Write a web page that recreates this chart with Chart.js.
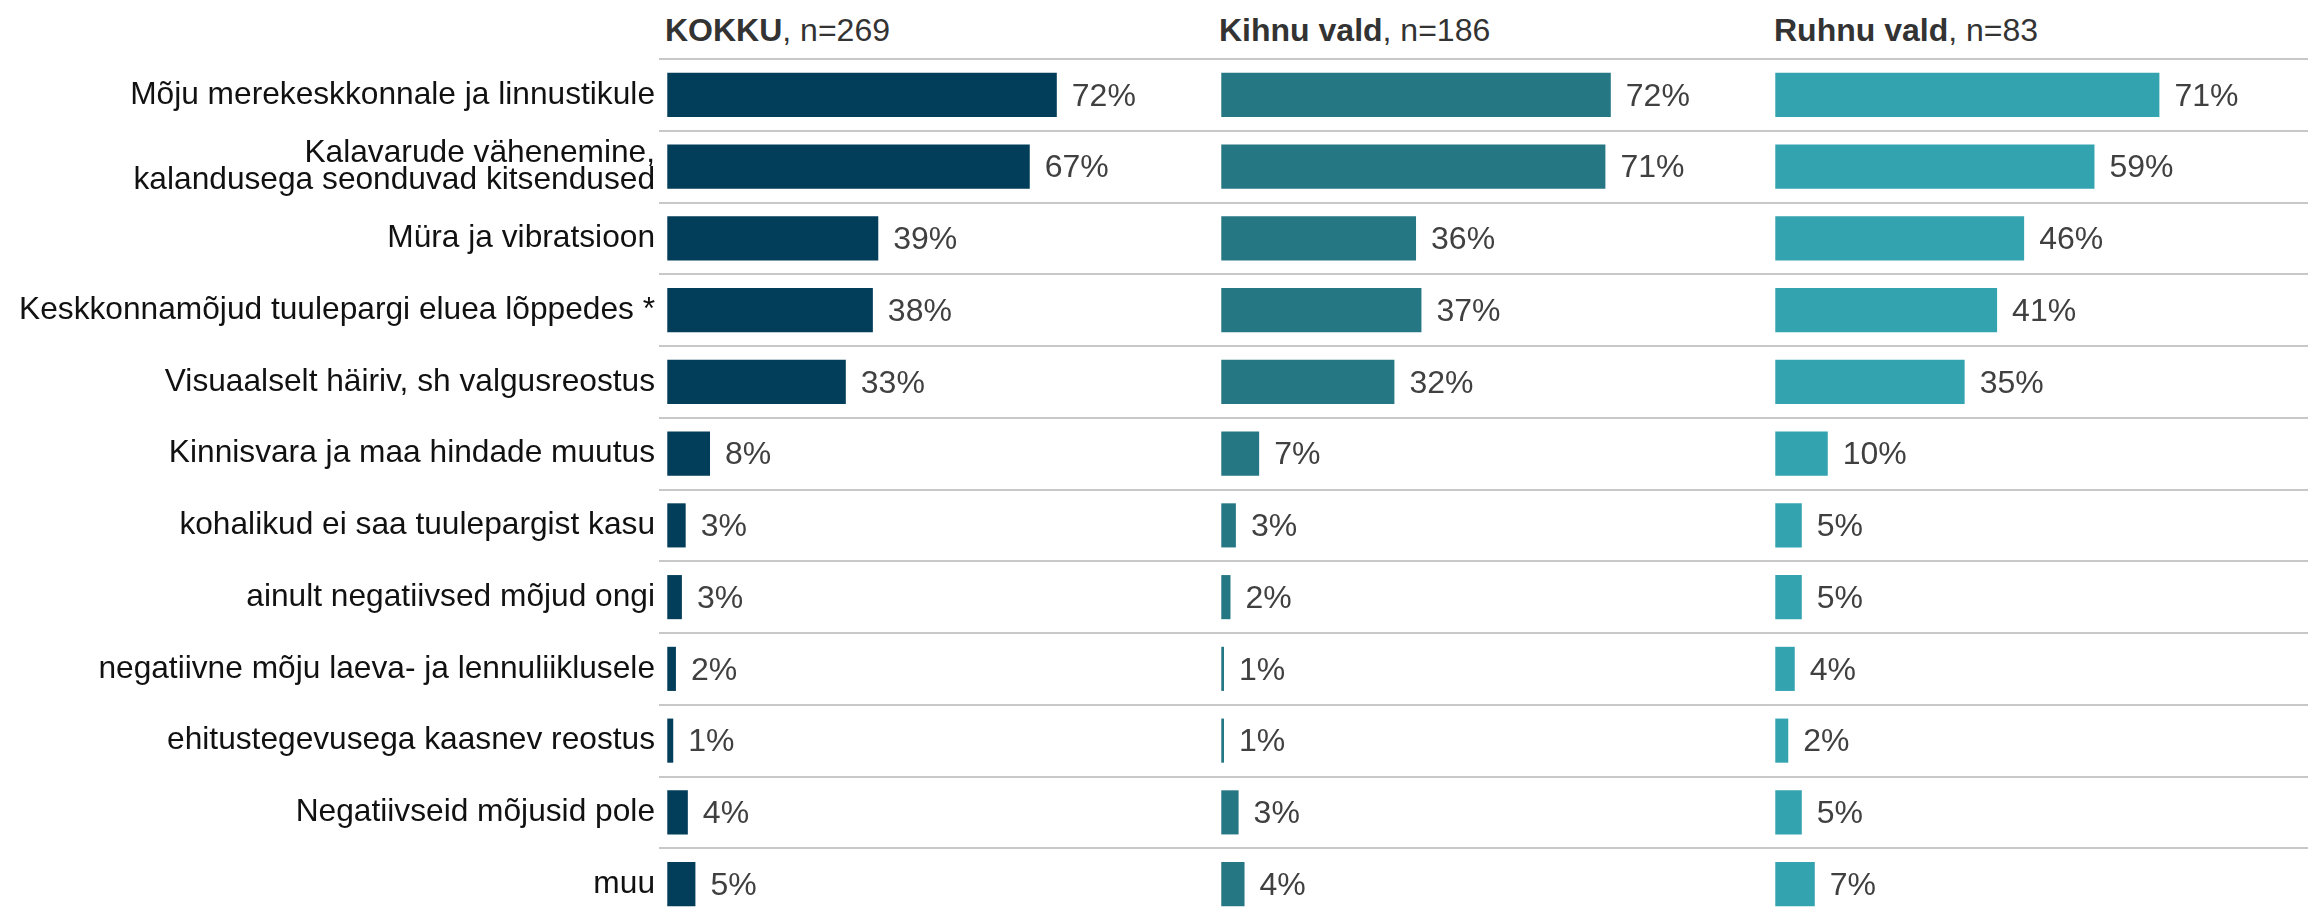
<!DOCTYPE html>
<html>
<head>
<meta charset="utf-8">
<script src="https://cdn.jsdelivr.net/npm/chart.js@4/dist/chart.umd.min.js"></script>
<style>
  body{margin:0;background:#fff;overflow:hidden}
  #wrap{position:relative;width:2308px;height:915px;overflow:hidden}
  canvas{position:absolute;top:0}
  .head{position:absolute;top:14px;font:32px/1 'Liberation Sans',Arial,sans-serif;color:#333;white-space:nowrap}
</style>
</head>
<body>
<div id="wrap">
  <div class="head" style="left:665px"><b>KOKKU</b>, n=269</div>
  <div class="head" style="left:1219px"><b>Kihnu vald</b>, n=186</div>
  <div class="head" style="left:1774px"><b>Ruhnu vald</b>, n=83</div>
  <canvas id="c1" width="1213" height="950" style="left:0"></canvas>
  <canvas id="c2" width="554" height="950" style="left:1213px"></canvas>
  <canvas id="c3" width="541" height="950" style="left:1767px"></canvas>
</div>
<script>
const categories=[
  'Mõju merekeskkonnale ja linnustikule',
  ['Kalavarude vähenemine,','kalandusega seonduvad kitsendused'],
  'Müra ja vibratsioon',
  'Keskkonnamõjud tuulepargi eluea lõppedes *',
  'Visuaalselt häiriv, sh valgusreostus',
  'Kinnisvara ja maa hindade muutus',
  'kohalikud ei saa tuulepargist kasu',
  'ainult negatiivsed mõjud ongi',
  'negatiivne mõju laeva- ja lennuliiklusele',
  'ehitustegevusega kaasnev reostus',
  'Negatiivseid mõjusid pole',
  'muu'
]
// shares in % (labels show them rounded)
const kokku=[72,67,39,38,33,7.9,3.4,2.7,1.6,1.1,3.8,5.2]
const kihnu=[72,71,36,37,32,7,2.7,1.7,0.5,0.5,3.2,4.3]
const ruhnu=[71,59,46,41,35,9.7,4.9,4.9,3.6,2.4,4.9,7.3]

const font="'Liberation Sans', Arial, sans-serif"
const pxPerPct=5.41
const lead=1.53

const valueLabels={
  id:'valueLabels',
  afterDatasetsDraw(chart){
    const ctx=chart.ctx
    const ds=chart.data.datasets[0]
    ctx.save()
    ctx.font='32px '+font
    ctx.fillStyle='#404040'
    ctx.textBaseline='middle'
    ctx.textAlign='left'
    chart.getDatasetMeta(0).data.forEach((bar,i)=>{
      ctx.fillText(Math.round(ds.data[i])+'%',bar.x+15,bar.y+2)
    })
    ctx.restore()
  }
}

function panel(id,values,color,withLabels){
  const el=document.getElementById(id)
  const areaWidth=withLabels ? el.width-659 : el.width
  return new Chart(el,{
    type:'bar',
    data:{
      labels:categories,
      datasets:[{
        data:values,
        backgroundColor:color,
        barPercentage:0.615,
        categoryPercentage:1
      }]
    },
    options:{
      indexAxis:'y',
      responsive:false,
      animation:false,
      layout:{padding:{top:59,bottom:30,left:0,right:0}},
      plugins:{legend:{display:false},tooltip:{enabled:false}},
      scales:{
        x:{display:false,min:-lead,max:areaWidth/pxPerPct-lead},
        y:{
          grid:{
            offset:true,
            drawTicks:false,
            lineWidth:2,
            color:c=>c.type==='tick' ? '#c8c8c8' : 'rgba(0,0,0,0)'
          },
          border:{display:false},
          ticks:{
            display:withLabels,
            padding:4,
            color:'#111',
            font:{family:font,size:31.7,lineHeight:0.83}
          },
          afterFit(s){ s.width=withLabels ? 659 : 0 }
        }
      }
    },
    plugins:[valueLabels]
  })
}

panel('c1',kokku,'#023d59',true)
panel('c2',kihnu,'#267784',false)
panel('c3',ruhnu,'#33a3af',false)
</script>
</body>
</html>
